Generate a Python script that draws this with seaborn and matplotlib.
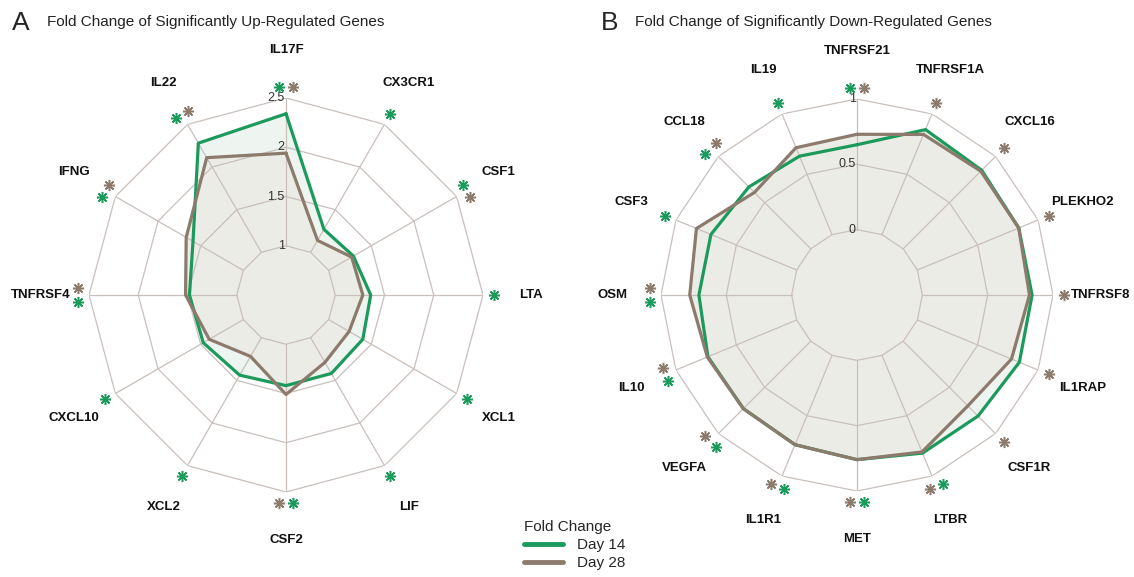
import numpy as np
import pandas as pd
import seaborn as sns
import matplotlib.pyplot as plt
from matplotlib.lines import Line2D

##############
# Chart data #
##############

days = ['Day 14', 'Day 28']

up_genes = ['IL17F', 'CX3CR1', 'CSF1', 'LTA', 'XCL1', 'LIF', 'CSF2',
            'XCL2', 'CXCL10', 'TNFRSF4', 'IFNG', 'IL22']
up_day14 = [2.34, 1.27, 1.29, 1.36, 1.40, 1.42, 1.42, 1.44, 1.47, 1.48, 1.59, 2.28]
up_day28 = [1.94, 1.14, 1.27, 1.28, 1.24, 1.29, 1.51, 1.22, 1.40, 1.52, 1.67, 2.11]
up_sig14 = [1, 1, 1, 1, 1, 1, 1, 1, 1, 1, 1, 1]
up_sig28 = [1, 0, 1, 0, 0, 0, 1, 0, 0, 1, 1, 1]
up_ticks = [1, 1.5, 2, 2.5]
up_tick_labels = ['1', '1.5', '2', '2.5']

down_genes = ['TNFRSF21', 'TNFRSF1A', 'CXCL16', 'PLEKHO2', 'TNFRSF8', 'IL1RAP',
              'CSF1R', 'LTBR', 'MET', 'IL1R1', 'VEGFA', 'IL10', 'OSM', 'CSF3',
              'CCL18', 'IL19']
down_day14 = [0.65, 0.87, 0.85, 0.84, 0.84, 0.845, 0.81, 0.81, 0.76, 0.74,
              0.73, 0.735, 0.71, 0.71, 0.67, 0.65]
down_day28 = [0.73, 0.83, 0.84, 0.84, 0.82, 0.78, 0.70, 0.80, 0.76, 0.74,
              0.73, 0.74, 0.78, 0.83, 0.61, 0.72]
down_sig14 = [1, 0, 0, 0, 0, 0, 0, 1, 1, 1, 1, 1, 1, 1, 1, 1]
down_sig28 = [1, 1, 1, 1, 1, 1, 1, 1, 1, 1, 1, 1, 1, 0, 1, 0]
down_ticks = [0, 0.5, 1]
down_tick_labels = ['0', '0.5', '1']

##########
# Styles #
##########

GREEN = '#1b9a5b'
BROWN = '#8c7b6c'
GRID = '#c9bfbb'
FILL14 = '#eef5f0'
FILL28 = '#ecece7'

sns.set_style('white')
plt.rcParams['font.family'] = ['Liberation Sans', 'DejaVu Sans']


def radar(ax, genes, d14, d28, sig14, sig28, ticks, tick_labels):
    n = len(genes)
    theta = np.linspace(0, 2 * np.pi, n, endpoint=False)
    closed = np.append(theta, 2 * np.pi)
    step = ticks[1] - ticks[0]
    rmin, rmax = ticks[0] - step, ticks[-1]

    ax.set_theta_zero_location('N')
    ax.set_theta_direction(-1)
    ax.set_ylim(rmin, rmax)
    ax.grid(False)
    ax.spines['polar'].set_visible(False)
    ax.set_xticks([])
    ax.set_yticks([])
    ax.set_facecolor('none')

    # long dataframe for seaborn, each series closed back on its first gene
    df = pd.DataFrame({
        'theta': np.concatenate([closed, closed]),
        'value': np.concatenate([d14 + d14[:1], d28 + d28[:1]]),
        'Day': [days[0]] * (n + 1) + [days[1]] * (n + 1),
    })

    # fills below everything
    ax.fill(closed, df.loc[df['Day'] == days[0], 'value'], color=FILL14, zorder=1)
    ax.fill(closed, df.loc[df['Day'] == days[1], 'value'], color=FILL28, zorder=1)

    # polygon grid
    for t in ticks:
        ax.plot(closed, [t] * (n + 1), color=GRID, lw=0.9, zorder=2)
    for th in theta:
        ax.plot([th, th], [ticks[0], rmax], color=GRID, lw=0.9, zorder=2)
    for t, lab in zip(ticks, tick_labels):
        ax.annotate(lab, (0, t), xytext=(-1, 0), textcoords='offset points',
                    ha='right', va='center', fontsize=9, color='#333333', zorder=3)

    sns.lineplot(data=df, x='theta', y='value', hue='Day',
                 palette=[GREEN, BROWN], sort=False, estimator=None,
                 lw=2.3, legend=False, ax=ax, zorder=4)
    ax.set_xlabel('')
    ax.set_ylabel('')

    # significance asterisks just outside the outer ring
    span = rmax - rmin
    r_star = rmin + 1.058 * span
    off = np.deg2rad(2.0)
    for th, s14, s28 in zip(theta, sig14, sig28):
        if s14 and s28:
            pos = [(th - off, GREEN), (th + off, BROWN)]
        elif s14:
            pos = [(th, GREEN)]
        elif s28:
            pos = [(th, BROWN)]
        else:
            pos = []
        for p, c in pos:
            ax.plot([p], [r_star], marker=(8, 2, 0), ms=8, mew=1.1,
                    color=c, clip_on=False, zorder=5)

    # gene names
    r_lab = rmin + 1.245 * span
    for th, g in zip(theta, genes):
        ax.text(th, r_lab, g, ha='center', va='center', fontsize=9.5,
                fontweight='bold', color='#111111')


fig = plt.figure(figsize=(11.34, 5.77), dpi=100)
axA = fig.add_axes([89 / 1134, 85 / 577, 394 / 1134, 394 / 577], projection='polar')
axB = fig.add_axes([661 / 1134, 86 / 577, 392 / 1134, 392 / 577], projection='polar')

radar(axA, up_genes, up_day14, up_day28, up_sig14, up_sig28, up_ticks, up_tick_labels)
radar(axB, down_genes, down_day14, down_day28, down_sig14, down_sig28,
      down_ticks, down_tick_labels)

fig.text(12 / 1134, 1 - 23 / 577, 'A', fontsize=19, va='center', ha='left')
fig.text(47 / 1134, 1 - 22 / 577, 'Fold Change of Significantly Up-Regulated Genes',
         fontsize=11, va='center', ha='left', color='#222222')
fig.text(601 / 1134, 1 - 23 / 577, 'B', fontsize=19, va='center', ha='left')
fig.text(635 / 1134, 1 - 22 / 577, 'Fold Change of Significantly Down-Regulated Genes',
         fontsize=11, va='center', ha='left', color='#222222')

handles = [Line2D([], [], color=GREEN, lw=3.5, solid_capstyle='round'),
           Line2D([], [], color=BROWN, lw=3.5, solid_capstyle='round')]
leg = fig.legend(handles, days, title='Fold Change', loc='upper left',
                 bbox_to_anchor=(510 / 1134, 1 - 506 / 577), frameon=False,
                 fontsize=11, title_fontsize=11, handlelength=2.6,
                 handletextpad=0.9, labelspacing=0.28, alignment='left')

plt.savefig('out.png', dpi=100)
